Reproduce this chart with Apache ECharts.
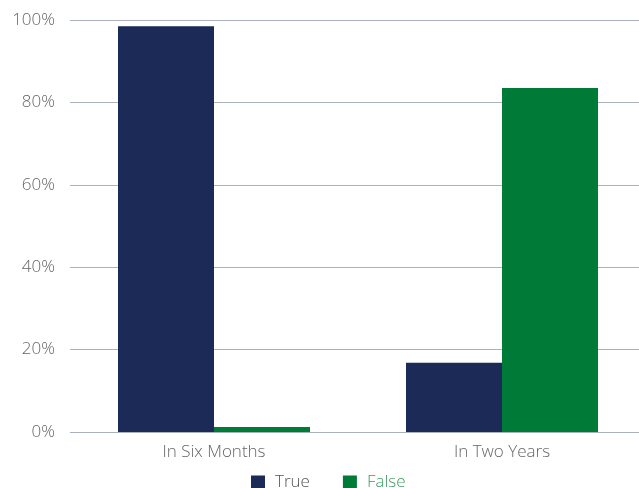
<!DOCTYPE html>
<html>
<head>
<meta charset="utf-8">
<style>
  html, body { margin: 0; padding: 0; background: #fff; }
  #main { width: 639px; height: 488px; }
</style>
<script src="https://cdn.jsdelivr.net/npm/echarts@6/dist/echarts.min.js"></script>
</head>
<body>
<div id="main"></div>
<script>
var categories = ['In Six Months', 'In Two Years'];
var trueValues = [98.5, 16.8];
var falseValues = [1.2, 83.5];
var yTicks = [0, 20, 40, 60, 80, 100];

var myChart = echarts.init(document.getElementById('main'));

var option = {
    animation: false,
    textStyle: { fontFamily: 'Open Sans' },
    grid: { left: 70, width: 576, top: 20, bottom: 56, containLabel: false, outerBoundsMode: 'none' },
    legend: {
        bottom: -8,
        left: 246,
        itemWidth: 14,
        itemHeight: 14,
        itemGap: 33,
        icon: 'rect',
        textStyle: { fontSize: 17, fontWeight: 300, padding: [0, 0, 0, 5] },
        data: [
            { name: 'True', textStyle: { color: '#555' } },
            { name: 'False', textStyle: { color: '#3e9a62' } }
        ]
    },
    xAxis: {
        type: 'category',
        data: categories,
        axisLine: { show: false },
        axisTick: { show: false },
        axisLabel: { fontSize: 17, fontWeight: 300, color: '#666', margin: 12 }
    },
    yAxis: {
        type: 'value',
        min: 0,
        max: 100,
        interval: 20,
        axisLine: { show: false },
        axisTick: { show: false },
        splitLine: { lineStyle: { color: '#a8b1bc', width: 1.2 } },
        axisLabel: {
            fontSize: 17, fontWeight: 300, color: '#666', margin: 15,
            formatter: function (v) { return yTicks.indexOf(v) >= 0 ? v + '%' : ''; }
        }
    },
    series: [
        {
            name: 'True', type: 'bar', data: trueValues,
            barWidth: 96, barGap: '0%',
            itemStyle: { color: '#1b2a56' }
        },
        {
            name: 'False', type: 'bar', data: falseValues,
            barWidth: 96,
            itemStyle: { color: '#007a37' }
        }
    ]
};

myChart.setOption(option);
</script>
</body>
</html>
